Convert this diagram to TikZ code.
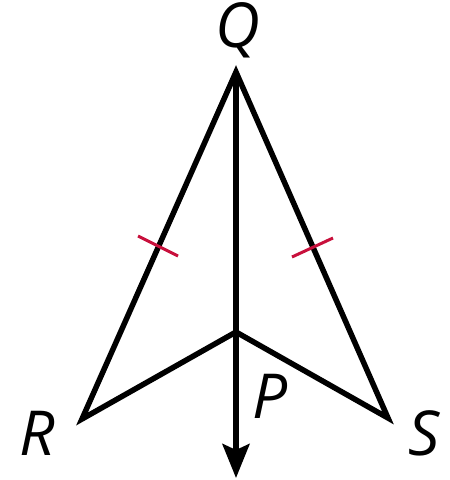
\documentclass[tikz,border=0pt]{standalone}
\usepackage{fontspec}
\setmainfont{Open Sans}
\usetikzlibrary{arrows.meta}
\definecolor{tickred}{RGB}{200,16,60}
\tikzset{
  edge/.style={line width=5.5pt, line join=miter, black},
  tickmark/.style={line width=3pt, tickred},
  lbl/.style={font=\fontsize{62}{62}\selectfont\itshape, inner sep=0pt}
}
\begin{document}
\begin{tikzpicture}[x=1pt,y=-1pt]
\useasboundingbox (0,0) rectangle (450,480);
\coordinate (Q) at (236,72);
\coordinate (R) at (82,419);
\coordinate (S) at (388,418);
\coordinate (P) at (236,332);
\coordinate (E) at (236,478);
\coordinate (t1a) at (138,236);
\coordinate (t1b) at (178,256);
\coordinate (t2a) at (292,257);
\coordinate (t2b) at (333,238);
\draw[edge] (Q) -- (R) -- (P) -- (S) -- cycle;
\draw[edge, -{Stealth[length=34pt,width=27pt,inset=6pt]}] (Q) -- (E);
\draw[tickmark] (t1a) -- (t1b);
\draw[tickmark] (t2a) -- (t2b);
\node[lbl] (lQ) at (238,30) {Q};
\node[lbl] (lR) at (37,433) {R};
\node[lbl] (lS) at (424,433) {S};
\node[lbl] (lP) at (270,396) {P};
\end{tikzpicture}
\end{document}
